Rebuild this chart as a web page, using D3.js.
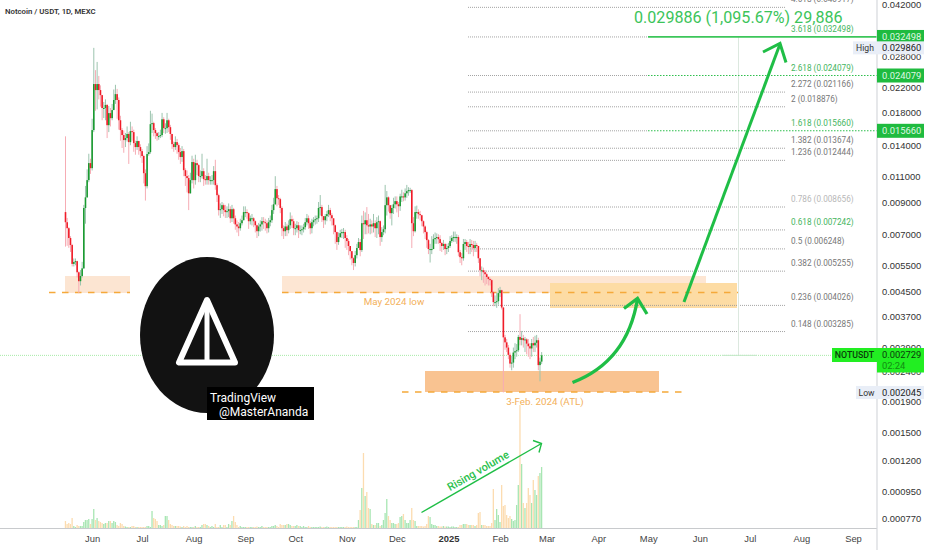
<!DOCTYPE html>
<html>
<head>
<meta charset="utf-8">
<title>NOTUSDT</title>
<script src="https://cdn.jsdelivr.net/npm/d3@7"></script>
<style>
  html, body { margin: 0; padding: 0; background: #fff; }
  svg { display: block; font-family: Roboto, sans-serif; }
  .price-axis text { font-size: 9.4px; fill: #333; }
  .time-axis text { font-size: 9.4px; fill: #444; }
</style>
</head>
<body>
<svg id="chart" width="932" height="550"></svg>
<script>
// prices in millionths of a USDT, one value per day starting 16 May 2024
const startDay = Date.UTC(2024, 4, 16);
const firstOpen = 8320;

const closes = [
  7690, 7340, 6800, 6440, 5560, 5640, 5680, 5210, 4860, 5060,
  5370, 8590, 9330, 10670, 12180, 11710, 15750, 22530, 21500, 22530,
  21500, 20670, 18700, 18700, 19150, 16360, 17970, 17280, 18400, 19900,
  20830, 19900, 17000, 15750, 15150, 14570, 14800, 15280, 14340, 15620,
  15500, 14230, 13800, 14460, 13800, 13370, 12870, 11260, 10180, 13070,
  13270, 16490, 16620, 15750, 15380, 15030, 15030, 15150, 17130, 15990,
  15990, 17000, 16110, 15280, 14120, 13800, 14340, 14010, 13270, 12770,
  13370, 11530, 11010, 10840, 9630, 10670, 12280, 10670, 12180, 11990,
  11010, 11010, 11440, 10750, 10670, 11010, 10670, 10670, 10670, 11440,
  10260, 9490, 8450, 8510, 8780, 8450, 8320, 8380, 8510, 7930,
  8510, 7930, 7560, 7440, 7340, 7630, 7810, 8320, 8320, 8250,
  7750, 7930, 7930, 7750, 7510, 7170, 7440, 7560, 7750, 7690,
  7630, 7340, 7690, 7810, 8450, 8840, 9950, 9270, 9200, 8590,
  7340, 7170, 7440, 7230, 7510, 7870, 7750, 7340, 7340, 7510,
  7230, 7230, 7280, 7400, 7690, 7930, 7630, 7340, 7690, 7810,
  7870, 7930, 8590, 8650, 8060, 7810, 8060, 8190, 8450, 8120,
  7930, 7510, 7120, 6590, 6850, 7060, 7120, 7120, 6800, 6640,
  6390, 6140, 5810, 5600, 5950, 6290, 6590, 6190, 7630, 7570,
  7810, 7510, 7440, 7560, 7440, 7630, 7340, 7690, 7750, 6850,
  7120, 7280, 8780, 9330, 8780, 8250, 8590, 8840, 9060, 8840,
  8710, 9400, 9400, 9330, 9630, 9790, 9870, 9870, 7630, 7170,
  8320, 8320, 8190, 8120, 7750, 7440, 7120, 6690, 6240, 6240,
  6240, 6740, 6800, 6850, 6740, 6540, 6390, 6490, 6240, 6290,
  6390, 6640, 6800, 6850, 6850, 6850, 6090, 5860, 5810, 6490,
  6590, 6390, 6340, 6490, 6440, 6290, 6440, 6390, 5810, 5290,
  5290, 5210, 5130, 5020, 4940, 4900, 4460, 4130, 4130, 4160,
  4430, 4530, 3960, 3140, 3020, 2900, 2740, 2560, 2580, 2790,
  2820, 2840, 3150, 3080, 3120, 3070, 3090, 2990, 2930, 2880,
  3000, 2950, 3010, 3070, 2530, 2600, 2729
];

const highs = [
  15000, 7950, 7400, 6900, 6500, 5800, 5800, 5700, 5250, 5300,
  5650, 8800, 10200, 11600, 13100, 12600, 17200, 29860, 25100, 26760,
  24000, 22300, 20700, 19600, 20000, 19300, 19000, 18700, 19300, 21600,
  22400, 21700, 20300, 17600, 16000, 15700, 15400, 16200, 15500, 16800,
  16200, 15800, 14500, 15000, 14500, 14100, 13600, 13000, 11600, 13900,
  14200, 18300, 17900, 16800, 16000, 15500, 15500, 15800, 18000, 17400,
  16600, 18000, 17200, 16400, 15200, 14400, 15000, 14700, 14200, 13700,
  13900, 13600, 11700, 11500, 11100, 11300, 12900, 12600, 13000, 12500,
  12100, 11500, 13100, 11700, 11100, 12600, 11300, 11000, 11100, 11900,
  12500, 10400, 9600, 8900, 9000, 8900, 8800, 8700, 8900, 8700,
  8800, 8600, 8100, 7800, 7700, 7900, 8100, 8700, 8700, 8500,
  8300, 8100, 8200, 8000, 7800, 7550, 7650, 7800, 8000, 8000,
  7900, 7800, 7950, 8100, 8800, 9300, 11000, 10200, 9500, 9300,
  8700, 7500, 7700, 7600, 7800, 8300, 8100, 7900, 7600, 7750,
  7700, 7500, 7500, 7600, 7950, 8200, 8100, 7750, 7900, 8000,
  8100, 8100, 9000, 9500, 8800, 8050, 8200, 8400, 8800, 8600,
  8250, 7900, 7550, 7150, 7100, 7250, 7300, 7350, 7250, 6950,
  6750, 6350, 6050, 5850, 6150, 6500, 6800, 6750, 8100, 8400,
  8300, 8650, 8200, 7900, 7800, 8200, 7800, 8000, 8100, 7800,
  7400, 7500, 10280, 9800, 9400, 8800, 8800, 9300, 9400, 9400,
  9000, 9600, 9900, 9700, 10000, 10280, 10100, 10050, 9950, 8000,
  8700, 8750, 8500, 8400, 8150, 7800, 7500, 7200, 6750, 6500,
  6900, 7000, 7100, 7050, 7000, 6950, 6600, 6700, 6550, 6500,
  6550, 6900, 6950, 7150, 7150, 7000, 6950, 6200, 6050, 6750,
  6750, 6700, 6600, 6750, 6700, 6650, 6650, 6550, 6400, 5800,
  5450, 5400, 5300, 5200, 5050, 5000, 4950, 4500, 4350, 4450,
  4600, 4650, 4550, 3980, 3200, 3100, 2960, 2790, 2720, 2900,
  3000, 2980, 3200, 3760, 3300, 3200, 3150, 3120, 3100, 3000,
  3100, 3150, 3180, 3200, 3130, 2680, 2800
];

const lows = [
  6360, 6400, 6300, 6100, 5450, 5450, 5500, 5000, 4430, 4700,
  5000, 5350, 7600, 9300, 10500, 11200, 11500, 15500, 18300, 18500,
  20000, 18900, 17000, 17300, 17000, 14800, 15500, 16200, 17000, 18500,
  19300, 17200, 15800, 14500, 13700, 13200, 13800, 14400, 12100, 14000,
  14500, 13300, 13000, 13500, 13000, 12700, 12200, 10400, 9100, 10000,
  12900, 13100, 15400, 15000, 14700, 14500, 14600, 14800, 14900, 15400,
  15300, 15400, 15500, 14600, 13600, 13300, 13500, 13100, 12500, 12100,
  12300, 11000, 10200, 9700, 8450, 9600, 10400, 10000, 10300, 11100,
  10500, 10500, 10800, 10200, 10300, 10300, 10300, 10300, 10300, 10300,
  9900, 9000, 8100, 7950, 8200, 8050, 7950, 7950, 8000, 7650,
  7700, 7600, 7250, 7100, 6900, 7200, 7500, 7800, 8000, 7900,
  7300, 7550, 7500, 7400, 7100, 6800, 6900, 7150, 7200, 7300,
  7200, 7050, 7100, 7450, 7650, 8200, 8800, 8700, 8800, 8250,
  6900, 6750, 6900, 6900, 7050, 7300, 7350, 6950, 6950, 7100,
  6800, 7000, 6950, 7100, 7250, 7500, 7300, 7000, 7050, 7450,
  7550, 7600, 7700, 8100, 7700, 7350, 7550, 7750, 8000, 7750,
  7500, 7000, 6500, 6200, 6450, 6800, 6800, 6750, 6300, 6200,
  5950, 5750, 5500, 5300, 5450, 5800, 6300, 5900, 6100, 6750,
  7000, 7000, 7050, 7000, 7050, 7100, 6850, 6800, 7000, 6400,
  6600, 6950, 7050, 8100, 8350, 7900, 7500, 8200, 8550, 8300,
  8000, 8400, 9000, 9050, 9100, 9300, 9450, 9650, 6290, 6900,
  7100, 7900, 7900, 7800, 7450, 7050, 6750, 6300, 6000, 5620,
  6000, 6300, 6500, 6500, 6500, 6150, 6100, 6200, 5950, 6000,
  6100, 6300, 6550, 6600, 6600, 6500, 5900, 5600, 5500, 5700,
  6200, 6100, 6000, 6000, 6100, 5900, 6100, 6100, 5600, 5050,
  4900, 4800, 4700, 4750, 4700, 4700, 4300, 4000, 4000, 3950,
  4050, 4300, 3900, 2045, 2850, 2800, 2650, 2480, 2430, 2480,
  2650, 2700, 2800, 2950, 2950, 2900, 2800, 2750, 2700, 2650,
  2700, 2800, 2800, 2900, 2430, 2230, 2550
];

const volumes = [
  7, 4, 5, 4, 10, 2, 1, 3, 2, 2,
  2, 6, 8, 8, 9, 4, 9, 19, 8, 10,
  7, 6, 5, 4, 5, 5, 7, 7, 5, 7,
  6, 3, 2, 5, 4, 2, 1.5, 1, 1, 1,
  2, 2, 1, 1, 1, 1, 1, 1, 1, 2,
  2, 1, 17, 10, 9, 7, 3, 3, 2, 3,
  12, 12, 8, 4, 3, 2, 2, 2, 2, 1.5,
  1, 2, 1, 2, 1, 1, 1, 1, 2, 1,
  1, 1, 3, 4, 4, 3, 2, 1, 2, 1,
  4, 1, 1, 3, 1, 3, 3, 1, 4, 3,
  7, 12, 6, 3, 1, 2, 1, 1, 1, 1,
  1, 1, 1, 1, 1, 1.5, 1, 1, 2, 1,
  1, 1, 1, 1, 2, 2, 3, 2, 1, 4,
  3, 3, 3, 4, 4, 3, 2, 2, 2, 3,
  2, 2, 1, 2, 1, 1, 2, 1, 1, 1,
  1, 1, 1, 1.5, 1, 1, 1, 1.5, 1, 1,
  1, 1, 1, 1, 1, 1, 1, 1, 1, 1.5,
  1, 1, 1, 1, 1, 1, 8, 18, 40, 75,
  32, 36, 20, 19, 4, 3, 3, 5, 5, 2,
  3, 8, 15, 29, 12, 8, 5, 5, 4, 4,
  5, 11, 12, 14, 8, 5, 5, 8, 20, 8,
  7, 2, 2, 2, 2, 1.5, 2, 4, 12, 11,
  4, 3, 3, 2, 2, 1.5, 1.5, 2, 1.5, 1.5,
  1.5, 1, 1.5, 1.5, 1, 1, 1, 3, 3, 4,
  4, 4, 3, 3, 3, 3, 2, 3, 15, 16,
  3, 3, 3, 2, 2, 2, 5, 39, 8, 19,
  13, 6, 43, 22, 23, 13, 10, 12, 9, 7,
  8, 23, 43, 123, 64, 25, 20, 25, 40, 33,
  25, 48, 38, 33, 52, 55, 61
];

const priceTicks = [0.042, 0.028, 0.022, 0.018, 0.014, 0.011, 0.009, 0.007, 0.0055, 0.0045,
  0.0037, 0.0029, 0.0024, 0.0019, 0.0015, 0.0012, 0.00095, 0.00077];

const monthTicks = ["2024-06-01", "2024-07-01", "2024-08-01", "2024-09-01", "2024-10-01", "2024-11-01",
  "2024-12-01", "2025-01-01", "2025-02-01", "2025-03-01", "2025-04-01", "2025-05-01", "2025-06-01",
  "2025-07-01", "2025-08-01", "2025-09-01"];

const fibRatios = ["4.618", "3.618", "2.618", "2.272", "2", "1.618", "1.382", "1.236",
  "0.786", "0.618", "0.5", "0.382", "0.236", "0.148"];
const fibPrices = [0.040917, 0.032498, 0.024079, 0.021166, 0.018876, 0.01566, 0.013674, 0.012444,
  0.008656, 0.007242, 0.006248, 0.005255, 0.004026, 0.003285];
const targetRatios = ["3.618", "2.618", "1.618", "0.618"];
const targetBoxes = [0.032498, 0.024079, 0.01566];

const lastPrice = 0.002729;
const highPrice = 0.02986;
const lowPrice = 0.002045;

const green = "#1fbe46";
const orange = "#f5a93a";
const axisRight = 877;
const baseline = 528;

const svg = d3.select("#chart");

const x = d3.scaleUtc()
  .domain([new Date(startDay), new Date(Date.UTC(2025, 8, 1))])
  .range([65.5, 853]);
const y = d3.scaleLog().domain([0.00077, 0.042]).range([518, 4]);
const vol = d3.scaleLinear().domain([0, d3.max(volumes)]).range([baseline, 405]);

const candles = closes.map((close, i) => ({
  date: new Date(startDay + i * 864e5),
  open: (i ? closes[i - 1] : firstOpen) / 1e6,
  close: close / 1e6,
  high: highs[i] / 1e6,
  low: lows[i] / 1e6,
  volume: volumes[i]
}));

function dashed(x1, x2, yy, dash) {
  svg.append("line").attr("x1", x1).attr("x2", x2).attr("y1", yy).attr("y2", yy)
    .attr("stroke", orange).attr("stroke-width", 1.6).attr("stroke-dasharray", dash);
}
function zone(x0, y0, x1, y1, fill) {
  svg.append("rect").attr("x", x0).attr("y", y0).attr("width", x1 - x0).attr("height", y1 - y0).attr("fill", fill);
}
function note(xx, yy, str, size, fill, anchor) {
  return svg.append("text").attr("x", xx).attr("y", yy).attr("font-size", size)
    .attr("fill", fill).attr("text-anchor", anchor || "start").text(str);
}

// orange zones from the drawing tools
zone(65, 276, 130, 293, "#fce5d2");
zone(282, 276, 706, 293, "#fde6d3");
zone(550, 283, 737, 308, "#fddca4");
zone(425, 371, 659, 392, "#f9c391");

// fib levels, the boxed targets turn green from x 648 on
fibRatios.forEach((r, i) => {
  const yy = y(fibPrices[i]);
  svg.append("line").attr("x1", 468).attr("x2", targetBoxes.includes(fibPrices[i]) ? 648 : 786).attr("y1", yy).attr("y2", yy)
    .attr("stroke", "#9a9a9a").attr("stroke-width", 0.9).attr("stroke-dasharray", "1 1");
  const col = targetRatios.includes(r) ? "#45b560" : r === "0.786" ? "#b8b8b8" : "#777";
  note(791, yy - 5, `${r} (${fibPrices[i].toFixed(6)})`, 8.2, col);
});

// vertical time line and last price line
svg.append("line").attr("x1", 738.5).attr("x2", 738.5).attr("y1", y(0.032498)).attr("y2", y(lastPrice))
  .attr("stroke", "#dce8df").attr("stroke-width", 1);
svg.append("line").attr("x1", 0).attr("x2", 832).attr("y1", y(lastPrice)).attr("y2", y(lastPrice))
  .attr("stroke", "#a6eaa6").attr("stroke-width", 1).attr("stroke-dasharray", "1 1");
svg.append("line").attr("x1", 722).attr("x2", 757).attr("y1", y(lastPrice)).attr("y2", y(lastPrice))
  .attr("stroke", "#c4e8c9").attr("stroke-width", 1);

// targets
svg.append("line").attr("x1", 648).attr("x2", axisRight).attr("y1", y(targetBoxes[0])).attr("y2", y(targetBoxes[0]))
  .attr("stroke", "#3cc65a").attr("stroke-width", 1.8);
targetBoxes.slice(1).forEach(p => {
  svg.append("line").attr("x1", 648).attr("x2", axisRight).attr("y1", y(p)).attr("y2", y(p))
    .attr("stroke", "#2fbf4e").attr("stroke-width", 1.1).attr("stroke-dasharray", "1.5 1.5");
});

dashed(49, 130, 292.5, "6.5 6.5");
dashed(282, 738, 292.5, "6.5 6.5");
dashed(402, 688, 392, "6.5 6.5");

note(394, 305, "May 2024 low", 9.8, "#f3b05a", "middle");
note(545, 405, "3-Feb. 2024 (ATL)", 9.8, "#f3b05a", "middle");

// volume
svg.append("g").selectAll("rect").data(candles).enter().append("rect")
  .attr("x", d => x(d.date) - 0.7)
  .attr("y", d => vol(d.volume))
  .attr("width", 1.3)
  .attr("height", d => baseline - vol(d.volume))
  .attr("fill", d => d.close >= d.open ? "#a8e6b3" : "#fcdcb0");

// candles
const candleG = svg.append("g");
candleG.selectAll("line").data(candles).enter().append("line")
  .attr("x1", d => x(d.date)).attr("x2", d => x(d.date))
  .attr("y1", d => y(d.high)).attr("y2", d => y(d.low))
  .attr("stroke", d => d.close >= d.open ? "#9cc4ae" : "#f6acb4")
  .attr("stroke-width", 1);
candleG.selectAll("rect").data(candles).enter().append("rect")
  .attr("x", d => x(d.date) - 0.8)
  .attr("y", d => y(Math.max(d.open, d.close)))
  .attr("width", 1.6)
  .attr("height", d => Math.max(1, Math.abs(y(d.open) - y(d.close))))
  .attr("fill", d => d.close >= d.open ? "#1a9a30" : "#f01c28");

// arrows
function arrow(path, head, width) {
  svg.append("path").attr("d", path).attr("fill", "none").attr("stroke", green)
    .attr("stroke-width", width).attr("stroke-linecap", "butt");
  svg.append("path").attr("d", head).attr("fill", "none").attr("stroke", green)
    .attr("stroke-width", width).attr("stroke-linejoin", "miter");
}
arrow("M572.5,382.5C605,370 630,345 637.5,299", "M624,308.5L637.5,298.5L647,314", 3.3);
arrow("M684,302L780,44", "M763,52L780,43.5L786,62.5", 3);
arrow("M421.5,512.5L541.5,443.5", "M533,440.5L541.5,443.5L539,452.5", 1.4);
note(0, 0, "Rising volume", 11, "#2cc14e", "middle")
  .attr("font-weight", 500)
  .attr("transform", "translate(480,474) rotate(-30)");

note(634, 22.5, "0.029886 (1,095.67%) 29,886", 16.1, "#3cc45a");

// notcoin logo
svg.append("ellipse").attr("cx", 207).attr("cy", 335).attr("rx", 67).attr("ry", 78).attr("fill", "#121212");
svg.append("path").attr("d", "M207,300L179,362.5H235Z").attr("fill", "none").attr("stroke", "#fff")
  .attr("stroke-width", 6).attr("stroke-linejoin", "round");
svg.append("line").attr("x1", 207).attr("x2", 207).attr("y1", 300).attr("y2", 362).attr("stroke", "#fff").attr("stroke-width", 5);
svg.append("rect").attr("x", 207).attr("y", 387).attr("width", 107).attr("height", 33).attr("fill", "#000");
note(210, 402, "TradingView", 12, "#fff");
note(219, 415.5, "@MasterAnanda", 12, "#fff");

note(5, 14, "Notcoin / USDT, 1D, MEXC", 7.8, "#333").attr("font-weight", 600);

// axes
svg.append("line").attr("x1", 0).attr("x2", axisRight).attr("y1", baseline + 0.5).attr("y2", baseline + 0.5)
  .attr("stroke", "#c8cacd");
svg.append("line").attr("x1", axisRight).attr("x2", axisRight).attr("y1", 0).attr("y2", 550)
  .attr("stroke", "#d6d8dc").attr("stroke-width", 1.2);

const priceAxis = svg.append("g").attr("class", "price-axis")
  .attr("transform", `translate(${axisRight},0)`)
  .call(d3.axisRight(y).tickValues(priceTicks).tickFormat(d3.format(".6f")).tickSize(0).tickPadding(5));
priceAxis.select(".domain").remove();

const timeAxis = svg.append("g").attr("class", "time-axis")
  .attr("transform", `translate(0,${baseline})`)
  .call(d3.axisBottom(x).tickValues(monthTicks.map(d => new Date(d)))
    .tickFormat(d => d.getUTCMonth() === 0 ? String(d.getUTCFullYear()) : d3.utcFormat("%b")(d))
    .tickSize(0).tickPadding(7));
timeAxis.select(".domain").remove();
timeAxis.selectAll("text").filter(d => d.getUTCMonth() === 0).attr("font-weight", 700).style("fill", "#333");

// price boxes on the axis
function priceBox(p, h, fill, col, str) {
  const yy = y(p);
  svg.append("rect").attr("x", axisRight).attr("y", yy - h / 2).attr("width", 47).attr("height", h).attr("fill", fill);
  note(882, yy + 3.2, str || p.toFixed(6), 9.4, col);
}
targetBoxes.forEach(p => priceBox(p, 14, "#1fbb3f", "#dff7e3"));

zone(853, y(highPrice) - 6.5, axisRight, y(highPrice) + 6.5, "#e9eef7");
note(865, y(highPrice) + 3.2, "High", 8.6, "#333", "middle");
priceBox(highPrice, 13, "#e9eef7", "#222");

zone(856, y(lowPrice) - 6.5, axisRight, y(lowPrice) + 6.5, "#e9eef7");
note(866.5, y(lowPrice) + 3.2, "Low", 8.6, "#333", "middle");
priceBox(lowPrice, 13, "#e9eef7", "#222");

zone(832, 348, axisRight, 362, "#22ee22");
note(854.5, 358.2, "NOTUSDT", 8.8, "#0a3d0a", "middle").attr("font-weight", 500);
zone(axisRight, 348, 924, 372.5, "#22ee22");
note(882, 358.2, lastPrice.toFixed(6), 9.4, "#0b3a0b");
note(882, 369, "02:24", 9.4, "#128a12");
</script>
</body>
</html>
